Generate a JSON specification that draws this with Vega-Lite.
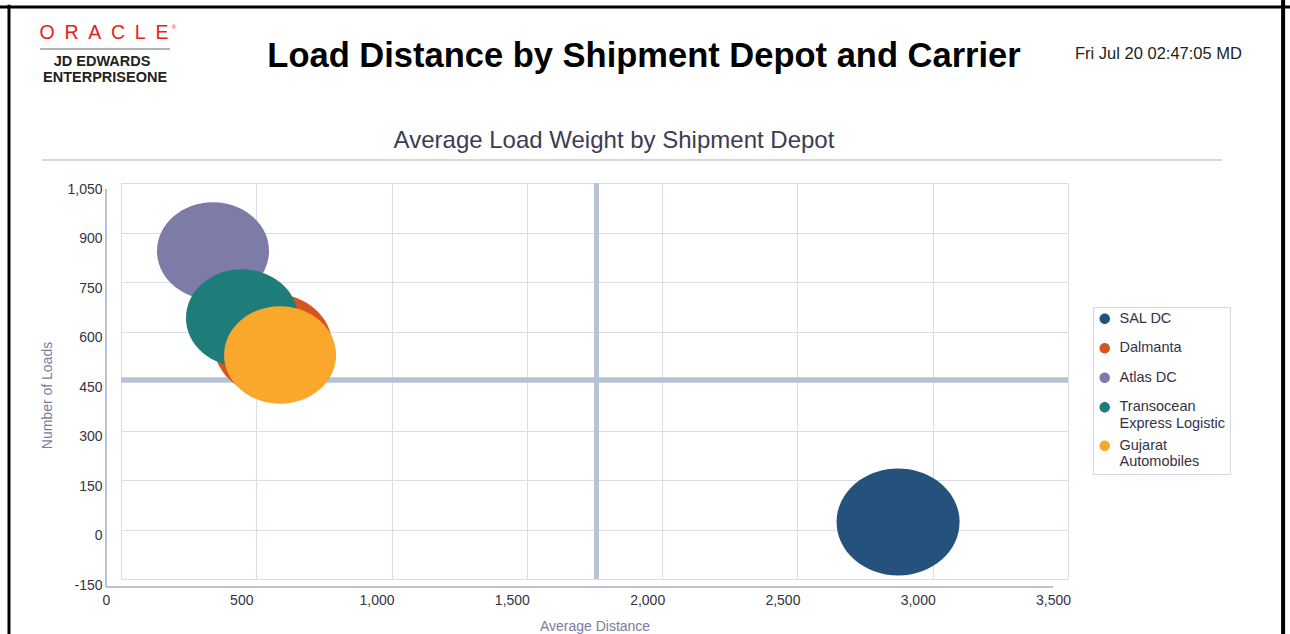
{
  "$schema": "https://vega.github.io/schema/vega-lite/v6.json",
  "width": 947,
  "height": 396,
  "autosize": {"type": "none"},
  "padding": {"left": 121, "top": 183, "right": 222, "bottom": 55},
  "background": "white",
  "config": {
    "font": "Liberation Sans",
    "view": {"stroke": null}
  },
  "resolve": {"axis": {"x": "independent", "y": "independent"}},
  "data": {
    "values": [
      {"depot": "SAL DC", "avgDistance": 2872, "loads": 23, "avgWeight": 15129},
      {"depot": "Dalmanta", "avgDistance": 562, "loads": 559, "avgWeight": 13924},
      {"depot": "Atlas DC", "avgDistance": 340, "loads": 844, "avgWeight": 12544},
      {"depot": "Transocean Express Logistic", "avgDistance": 447, "loads": 641, "avgWeight": 12544},
      {"depot": "Gujarat Automobiles", "avgDistance": 588, "loads": 529, "avgWeight": 12544}
    ]
  },
  "layer": [
    {
      "mark": {"type": "rule", "color": "#b7c3d4", "strokeWidth": 4.5},
      "encoding": {
        "x": {"datum": 1758, "type": "quantitative", "axis": null}
      }
    },
    {
      "mark": {"type": "rule", "color": "#b7c3d4", "strokeWidth": 4.5},
      "encoding": {
        "y": {"datum": 453, "type": "quantitative", "axis": null}
      }
    },
    {
      "data": {"values": [{}]},
      "mark": {"type": "rule", "color": "#a8aacb", "strokeWidth": 1.5},
      "encoding": {
        "x": {"datum": -55.4, "type": "quantitative", "axis": null},
        "x2": {"datum": 3444.6},
        "y": {"datum": -174.2, "type": "quantitative", "axis": null}
      }
    },
    {
      "data": {"values": [{}]},
      "mark": {"type": "rule", "color": "#a8aacb", "strokeWidth": 1.5},
      "encoding": {
        "x": {"datum": -55.4, "type": "quantitative", "axis": null},
        "y": {"datum": 1032, "type": "quantitative", "axis": null},
        "y2": {"datum": -174.2}
      }
    },
    {
      "mark": {"type": "point", "filled": true, "opacity": 1, "strokeWidth": 0, "shape": "M-1,0A1,0.87,0,1,1,1,0A1,0.87,0,1,1,-1,0Z"},
      "encoding": {
        "x": {
          "field": "avgDistance", "type": "quantitative",
          "scale": {"domain": [0, 3500], "nice": false, "zero": false},
          "axis": {
            "orient": "bottom",
            "title": "Average Distance",
            "values": [0, 500, 1000, 1500, 2000, 2500, 3000, 3500],
            "labelExpr": "format(datum.value, ',')",
            "labelFlush": false,
            "offset": 8,
            "labelOffset": -15,
            "labelPadding": 6,
            "ticks": false,
            "domain": false,
            "grid": true,
            "gridColor": "#dcdce9",
            "gridWidth": 1,
            "labelFontSize": 14,
            "labelColor": "#333344",
            "labelFont": "Liberation Sans",
            "titleFont": "Liberation Sans",
            "titleFontSize": 14,
            "titleFontWeight": "normal",
            "titleColor": "#7b7ba0",
            "titlePadding": 12
          }
        },
        "y": {
          "field": "loads", "type": "quantitative",
          "scale": {"domain": [-150, 1050], "nice": false, "zero": false},
          "axis": {
            "orient": "left",
            "title": "Number of Loads",
            "values": [-150, 0, 150, 300, 450, 600, 750, 900, 1050],
            "labelExpr": "replace(format(datum.value, ','), '−', '-')",
            "labelFlush": false,
            "offset": 15,
            "labelOffset": 6,
            "labelPadding": 4,
            "ticks": false,
            "domain": false,
            "grid": true,
            "gridColor": "#dcdce9",
            "gridWidth": 1,
            "labelFontSize": 14,
            "labelColor": "#333344",
            "labelFont": "Liberation Sans",
            "titleFont": "Liberation Sans",
            "titleFontSize": 14,
            "titleFontWeight": "normal",
            "titleColor": "#7b7ba0",
            "titlePadding": 12,
            "titleY": 212
          }
        },
        "size": {
          "field": "avgWeight", "type": "quantitative",
          "scale": {"type": "linear", "domain": [0, 16000], "range": [0, 16000], "zero": true},
          "legend": null
        },
        "color": {
          "field": "depot", "type": "nominal",
          "scale": {
            "domain": ["SAL DC", "Dalmanta", "Atlas DC", "Transocean Express Logistic", "Gujarat Automobiles"],
            "range": ["#25527d", "#d8541f", "#7d7ba8", "#1e7c79", "#f9a82c"]
          },
          "legend": {
            "title": null,
            "orient": "none",
            "legendX": 972,
            "legendY": 124,
            "symbolType": "M-1,0A1,1,0,1,1,1,0A1,1,0,1,1,-1,0ZM0,-2.8L0,-2.8ZM0,2.8L0,2.8Z",
            "symbolSize": 110,
            "symbolStrokeWidth": 0,
            "labelFont": "Liberation Sans",
            "labelFontSize": 14.5,
            "labelColor": "#333344",
            "labelOffset": 7.5,
            "rowPadding": -0.5,
            "padding": 4.5,
            "strokeColor": "#d6d6e2",
            "fillColor": "white",
            "labelExpr": "datum.label == 'Transocean Express Logistic' ? ['Transocean', 'Express Logistic'] : datum.label == 'Gujarat Automobiles' ? ['Gujarat', 'Automobiles'] : datum.label"
          }
        }
      }
    },
    {
      "data": {"values": [{}]},
      "mark": {"type": "text", "text": "Average Load Weight by Shipment Depot", "fontSize": 24, "color": "#3c3c54", "align": "center", "baseline": "alphabetic"},
      "encoding": {
        "x": {"datum": 1822, "type": "quantitative", "axis": null},
        "y": {"datum": 1156, "type": "quantitative", "axis": null}
      }
    },
    {
      "data": {"values": [{}]},
      "mark": {"type": "rule", "color": "#c8c8dc", "strokeWidth": 1.5},
      "encoding": {
        "x": {"datum": -292, "type": "quantitative", "axis": null},
        "x2": {"datum": 4069},
        "y": {"datum": 1120, "type": "quantitative", "axis": null}
      }
    },
    {
      "data": {"values": [{}]},
      "mark": {"type": "text", "text": "Load Distance by Shipment Depot and Carrier", "fontSize": 34.5, "fontWeight": "bold", "color": "#000000", "align": "center", "baseline": "alphabetic"},
      "encoding": {
        "x": {"datum": 1933, "type": "quantitative", "axis": null},
        "y": {"datum": 1401, "type": "quantitative", "axis": null}
      }
    },
    {
      "data": {"values": [{}]},
      "mark": {"type": "text", "text": "Fri Jul 20 02:47:05 MD", "fontSize": 16.5, "color": "#222222", "align": "left", "baseline": "alphabetic"},
      "encoding": {
        "x": {"datum": 3526, "type": "quantitative", "axis": null},
        "y": {"datum": 1426, "type": "quantitative", "axis": null}
      }
    },
    {
      "data": {"values": [{}]},
      "mark": {"type": "text", "text": "O\u2002R\u2002A\u2002C\u2002L\u2002E", "fontSize": 19.5, "color": "#e2231a", "align": "center", "baseline": "alphabetic"},
      "encoding": {
        "x": {"datum": -63, "type": "quantitative", "axis": null},
        "y": {"datum": 1486, "type": "quantitative", "axis": null}
      }
    },
    {
      "data": {"values": [{}]},
      "mark": {"type": "text", "text": "®", "fontSize": 6, "color": "#e2231a", "align": "left", "baseline": "alphabetic"},
      "encoding": {
        "x": {"datum": 188, "type": "quantitative", "axis": null},
        "y": {"datum": 1516, "type": "quantitative", "axis": null}
      }
    },
    {
      "data": {"values": [{}]},
      "mark": {"type": "rule", "color": "#666666", "strokeWidth": 1},
      "encoding": {
        "x": {"datum": -299, "type": "quantitative", "axis": null},
        "x2": {"datum": 181},
        "y": {"datum": 1456, "type": "quantitative", "axis": null}
      }
    },
    {
      "data": {"values": [{}]},
      "mark": {"type": "text", "text": "JD EDWARDS", "fontSize": 14.5, "fontWeight": "bold", "color": "#222222", "align": "center", "baseline": "alphabetic"},
      "encoding": {
        "x": {"datum": -70, "type": "quantitative", "axis": null},
        "y": {"datum": 1404, "type": "quantitative", "axis": null}
      }
    },
    {
      "data": {"values": [{}]},
      "mark": {"type": "text", "text": "ENTERPRISEONE", "fontSize": 14.5, "fontWeight": "bold", "color": "#222222", "align": "center", "baseline": "alphabetic"},
      "encoding": {
        "x": {"datum": -59, "type": "quantitative", "axis": null},
        "y": {"datum": 1356, "type": "quantitative", "axis": null}
      }
    },
    {
      "data": {"values": [{}]},
      "mark": {"type": "rule", "color": "#000000", "strokeWidth": 3},
      "encoding": {
        "x": {"datum": -414, "type": "quantitative", "axis": null},
        "y": {"datum": 1590, "type": "quantitative", "axis": null},
        "y2": {"datum": -340}
      }
    },
    {
      "data": {"values": [{}]},
      "mark": {"type": "rule", "color": "#000000", "strokeWidth": 4},
      "encoding": {
        "x": {"datum": 4295, "type": "quantitative", "axis": null},
        "y": {"datum": 1610, "type": "quantitative", "axis": null},
        "y2": {"datum": -340}
      }
    },
    {
      "data": {"values": [{}]},
      "mark": {"type": "rule", "color": "#000000", "strokeWidth": 3},
      "encoding": {
        "x": {"datum": -450, "type": "quantitative", "axis": null},
        "x2": {"datum": 4330},
        "y": {"datum": 1583, "type": "quantitative", "axis": null}
      }
    }
  ]
}
